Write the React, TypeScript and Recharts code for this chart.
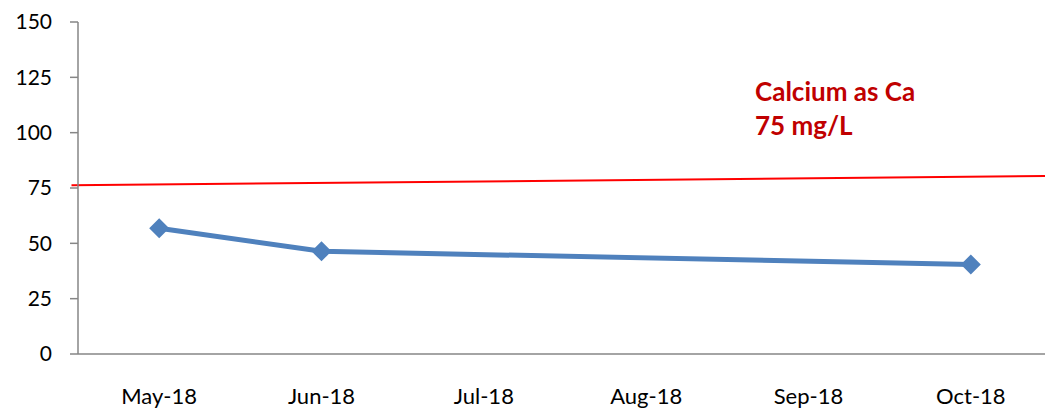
import { Line, LineChart, ReferenceLine, XAxis, YAxis } from 'recharts';

const months = ['May-18', 'Jun-18', 'Jul-18', 'Aug-18', 'Sep-18', 'Oct-18'];
const calcium: (number | null)[] = [56.8, 46.4, null, null, null, 40.4];
const yTicks = [0, 25, 50, 75, 100, 125, 150];
// guideline drawn by hand in the original, slightly tilted
const limitX = [-0.04, 5.96];
const limitY = [76.2, 80.4];
const limitLabel = ['Calcium as Ca', '75 mg/L'];

const FONT = 'Lato, "Open Sans", sans-serif';
const AXIS = '#868686';

export default function App() {
  // each month sits in the middle of its band, Excel style
  const data = months.map((m, i) => ({ pos: i + 0.5, month: m, calcium: calcium[i] }));
  const boundaryTicks = months.map((_, i) => i).concat(months.length);
  const centerTicks = data.map((d) => d.pos);

  return (
    <div
      style={{
        position: 'fixed',
        left: 0,
        top: 0,
        width: 1045,
        height: 411,
        overflow: 'hidden',
        background: '#fff',
        fontFamily: FONT,
      }}
    >
      <LineChart
        width={1060}
        height={411}
        data={data}
        margin={{ top: 22, right: 8, left: 0, bottom: 0 }}
      >
        <XAxis
          xAxisId="grid"
          dataKey="pos"
          type="number"
          domain={[0, months.length]}
          ticks={boundaryTicks}
          tick={false}
          tickSize={8}
          height={8}
          stroke={AXIS}
          strokeWidth={1.5}
        />
        <XAxis
          xAxisId="lab"
          dataKey="pos"
          type="number"
          domain={[0, months.length]}
          ticks={centerTicks}
          tickFormatter={(v: number) => months[Math.floor(v)]}
          axisLine={false}
          tickLine={false}
          tickSize={0}
          tickMargin={26}
          height={49}
          interval={0}
          tick={{ fontSize: 22, fill: '#000', fontFamily: FONT }}
        />
        <YAxis
          domain={[0, 150]}
          ticks={yTicks}
          width={78}
          tickSize={8}
          tickMargin={18}
          stroke={AXIS}
          strokeWidth={1.5}
          tick={{ fontSize: 21, fill: '#000', fontFamily: FONT }}
          interval={0}
        />
        <ReferenceLine
          xAxisId="grid"
          segment={[
            { x: limitX[0], y: limitY[0] },
            { x: limitX[1], y: limitY[1] },
          ]}
          stroke="#ff0000"
          strokeWidth={2}
          ifOverflow="visible"
        />
        <Line
          xAxisId="grid"
          type="linear"
          dataKey="calcium"
          stroke="#4f81bd"
          strokeWidth={5}
          connectNulls
          isAnimationActive={false}
          dot={(p: any) =>
            p.value == null ? (
              <g key={p.index} />
            ) : (
              <path
                key={p.index}
                d={`M${p.cx},${p.cy - 10} L${p.cx + 10},${p.cy} L${p.cx},${p.cy + 10} L${p.cx - 10},${p.cy} Z`}
                fill="#4f81bd"
              />
            )
          }
        />
      </LineChart>
      <div
        style={{
          position: 'absolute',
          left: 755,
          top: 74,
          color: '#c00000',
          fontWeight: 700,
          fontSize: 26,
          lineHeight: '34px',
        }}
      >
        {limitLabel.map((t) => (
          <div key={t}>{t}</div>
        ))}
      </div>
    </div>
  );
}
